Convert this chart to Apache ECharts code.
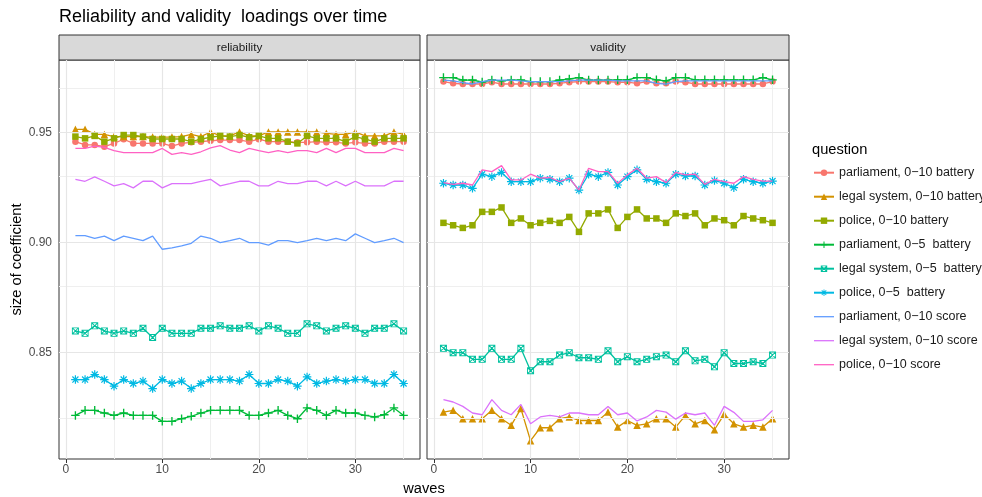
<!DOCTYPE html>
<html><head><meta charset="utf-8">
<script src="https://cdn.jsdelivr.net/npm/echarts@6/dist/echarts.min.js"></script>
<style>html,body{margin:0;padding:0;background:#fff}#c{width:982px;height:497px}</style>
</head><body><div id="c"></div>
<script>
// ---------- data ----------
const waves = [1,2,3,4,5,6,7,8,9,10,11,12,13,14,15,16,17,18,19,20,21,22,23,24,25,26,27,28,29,30,31,32,33,34,35];
const questions = ['parliament, 0\u221210 battery','legal system, 0\u221210 battery','police, 0\u221210 battery','parliament, 0\u22125  battery','legal system, 0\u22125  battery','police, 0\u22125  battery','parliament, 0\u221210 score','legal system, 0\u221210 score','police, 0\u221210 score'];
const panels = ['reliability','validity'];
const xMajorTicks = [0,10,20,30];
const xMinorTicks = [5,15,25,35];
const yMajorTicks = [0.85,0.90,0.95];
const yMinorTicks = [0.825,0.875,0.925,0.975];
const yTickLabels = ['0.85','0.90','0.95'];

// reliability panel
const relParl10Bat = [0.9459,0.9444,0.9444,0.9436,0.9451,0.9470,0.9451,0.9451,0.9451,0.9451,0.9439,0.9451,0.9456,0.9459,0.9463,0.9466,0.9466,0.9466,0.9459,0.9470,0.9459,0.9459,0.9459,0.9456,0.9456,0.9459,0.9456,0.9456,0.9451,0.9456,0.9451,0.9451,0.9459,0.9459,0.9459];
const relLegal10Bat = [0.9515,0.9515,0.9492,0.9492,0.9482,0.9482,0.9482,0.9482,0.9480,0.9480,0.9480,0.9482,0.9492,0.9482,0.9503,0.9485,0.9485,0.9503,0.9485,0.9485,0.9503,0.9503,0.9503,0.9503,0.9503,0.9503,0.9497,0.9492,0.9492,0.9503,0.9485,0.9485,0.9485,0.9503,0.9492];
const relPolice10Bat = [0.9482,0.9474,0.9485,0.9459,0.9474,0.9489,0.9489,0.9482,0.9471,0.9471,0.9471,0.9471,0.9459,0.9470,0.9479,0.9485,0.9482,0.9489,0.9479,0.9485,0.9474,0.9474,0.9459,0.9451,0.9485,0.9474,0.9474,0.9474,0.9459,0.9482,0.9470,0.9459,0.9474,0.9474,0.9474];
const relParl5Bat = [0.8215,0.8238,0.8238,0.8226,0.8215,0.8226,0.8215,0.8215,0.8215,0.8188,0.8188,0.8200,0.8211,0.8226,0.8238,0.8238,0.8238,0.8238,0.8215,0.8215,0.8226,0.8238,0.8215,0.8200,0.8249,0.8238,0.8215,0.8238,0.8226,0.8226,0.8215,0.8208,0.8218,0.8249,0.8215];
const relLegal5Bat = [0.8599,0.8588,0.8622,0.8599,0.8588,0.8599,0.8588,0.8611,0.8569,0.8611,0.8588,0.8588,0.8588,0.8611,0.8611,0.8622,0.8611,0.8611,0.8622,0.8599,0.8622,0.8611,0.8588,0.8588,0.8631,0.8622,0.8599,0.8611,0.8622,0.8611,0.8588,0.8611,0.8611,0.8631,0.8599];
const relPolice5Bat = [0.8378,0.8378,0.8401,0.8378,0.8348,0.8378,0.8360,0.8371,0.8337,0.8378,0.8360,0.8371,0.8337,0.8360,0.8378,0.8378,0.8378,0.8371,0.8401,0.8360,0.8360,0.8378,0.8371,0.8348,0.8390,0.8360,0.8371,0.8378,0.8371,0.8378,0.8378,0.8360,0.8360,0.8401,0.8360];
const relParl10Score = [0.9032,0.9032,0.9020,0.9030,0.9009,0.9030,0.9020,0.9009,0.9030,0.8970,0.8976,0.8985,0.8997,0.9030,0.9020,0.9000,0.9009,0.9020,0.9000,0.9000,0.8989,0.9009,0.9009,0.9000,0.9009,0.9020,0.9009,0.9020,0.9009,0.9040,0.9020,0.9000,0.9009,0.9020,0.9000];
const relLegal10Score = [0.9288,0.9279,0.9299,0.9279,0.9258,0.9268,0.9249,0.9279,0.9279,0.9249,0.9268,0.9268,0.9268,0.9279,0.9288,0.9258,0.9268,0.9279,0.9279,0.9258,0.9258,0.9279,0.9268,0.9268,0.9279,0.9279,0.9258,0.9279,0.9258,0.9279,0.9258,0.9258,0.9258,0.9279,0.9279];
const relPolice10Score = [0.9428,0.9428,0.9439,0.9433,0.9418,0.9409,0.9409,0.9409,0.9409,0.9428,0.9401,0.9409,0.9401,0.9413,0.9431,0.9441,0.9421,0.9409,0.9428,0.9418,0.9409,0.9418,0.9409,0.9418,0.9418,0.9409,0.9428,0.9409,0.9428,0.9428,0.9409,0.9409,0.9409,0.9428,0.9418];

// validity panel
const valParl10Bat = [0.9732,0.9724,0.9721,0.9721,0.9721,0.9729,0.9721,0.9721,0.9721,0.9721,0.9721,0.9721,0.9724,0.9729,0.9732,0.9732,0.9732,0.9732,0.9729,0.9729,0.9724,0.9732,0.9724,0.9724,0.9732,0.9729,0.9721,0.9721,0.9721,0.9721,0.9721,0.9721,0.9721,0.9721,0.9732];
const valLegal10Bat = [0.8230,0.8238,0.8200,0.8200,0.8200,0.8238,0.8200,0.8170,0.8246,0.8100,0.8159,0.8159,0.8200,0.8208,0.8192,0.8192,0.8192,0.8230,0.8162,0.8192,0.8170,0.8177,0.8200,0.8200,0.8162,0.8215,0.8177,0.8192,0.8150,0.8220,0.8177,0.8162,0.8170,0.8162,0.8200];
const valPolice10Bat = [0.9090,0.9079,0.9067,0.9079,0.9140,0.9140,0.9160,0.9090,0.9110,0.9079,0.9090,0.9099,0.9090,0.9117,0.9049,0.9133,0.9133,0.9151,0.9067,0.9117,0.9151,0.9110,0.9110,0.9090,0.9133,0.9121,0.9133,0.9079,0.9110,0.9102,0.9079,0.9121,0.9110,0.9102,0.9090];
const valParl5Bat = [0.9750,0.9750,0.9739,0.9739,0.9730,0.9739,0.9735,0.9739,0.9739,0.9732,0.9732,0.9732,0.9739,0.9744,0.9750,0.9739,0.9739,0.9739,0.9740,0.9740,0.9750,0.9750,0.9740,0.9735,0.9750,0.9750,0.9740,0.9740,0.9740,0.9740,0.9740,0.9740,0.9740,0.9750,0.9740];
const valLegal5Bat = [0.8520,0.8500,0.8500,0.8470,0.8470,0.8520,0.8470,0.8470,0.8520,0.8418,0.8459,0.8459,0.8489,0.8500,0.8477,0.8477,0.8470,0.8509,0.8459,0.8482,0.8459,0.8470,0.8482,0.8489,0.8459,0.8509,0.8463,0.8470,0.8436,0.8500,0.8451,0.8451,0.8459,0.8451,0.8489];
const valPolice5Bat = [0.9270,0.9262,0.9262,0.9247,0.9311,0.9300,0.9319,0.9277,0.9277,0.9277,0.9293,0.9288,0.9277,0.9293,0.9239,0.9311,0.9300,0.9319,0.9262,0.9300,0.9331,0.9288,0.9277,0.9270,0.9311,0.9303,0.9303,0.9262,0.9282,0.9270,0.9250,0.9288,0.9277,0.9270,0.9280];
const valParl10Score = [0.9739,0.9735,0.9727,0.9721,0.9732,0.9739,0.9739,0.9739,0.9735,0.9732,0.9732,0.9732,0.9732,0.9735,0.9739,0.9739,0.9739,0.9739,0.9735,0.9735,0.9735,0.9735,0.9724,0.9720,0.9732,0.9735,0.9735,0.9735,0.9735,0.9735,0.9735,0.9735,0.9735,0.9735,0.9735];
const valLegal10Score = [0.8287,0.8276,0.8256,0.8226,0.8218,0.8287,0.8238,0.8218,0.8265,0.8177,0.8208,0.8215,0.8208,0.8226,0.8226,0.8218,0.8218,0.8256,0.8218,0.8226,0.8190,0.8208,0.8238,0.8230,0.8198,0.8226,0.8218,0.8226,0.8170,0.8256,0.8229,0.8188,0.8188,0.8195,0.8238];
const valPolice10Score = [0.9273,0.9265,0.9270,0.9262,0.9331,0.9323,0.9350,0.9285,0.9285,0.9311,0.9293,0.9296,0.9277,0.9293,0.9239,0.9338,0.9323,0.9323,0.9270,0.9308,0.9338,0.9293,0.9300,0.9273,0.9319,0.9308,0.9311,0.9265,0.9288,0.9277,0.9270,0.9300,0.9288,0.9280,0.9280];

const panelValues = [
  [relParl10Bat, relLegal10Bat, relPolice10Bat, relParl5Bat, relLegal5Bat, relPolice5Bat, relParl10Score, relLegal10Score, relPolice10Score],
  [valParl10Bat, valLegal10Bat, valPolice10Bat, valParl5Bat, valLegal5Bat, valPolice5Bat, valParl10Score, valLegal10Score, valPolice10Score]
];

// ---------- styling ----------
const colors = ['#F8766D','#D39200','#93AA00','#00BA38','#00C19F','#00B9E3','#619CFF','#DB72FB','#FF61C3'];
const PLUS = 'path://M4.2,0H5.8V4.2H10V5.8H5.8V10H4.2V5.8H0V4.2H4.2Z';
const SQCROSS = 'path://M0,0H10V1.3H0Z M8.7,0H10V10H8.7Z M0,8.7H10V10H0Z M0,0H1.3V10H0Z M0,0L1,0L10,9L10,10L9,10L0,1Z M9,0L10,0L10,1L1,10L0,10L0,9Z';
const ASTER = 'path://M4.3,0H5.7V10H4.3Z M0,4.3H10V5.7H0Z M1.955,0.965L9.035,8.045L8.045,9.035L0.965,1.955Z M8.045,0.965L9.035,1.955L1.955,9.035L0.965,8.045Z';
const LINEKEY = 'path://M0,0H20V1.3H0Z';
const symbols = ['circle','triangle','rect',PLUS,SQCROSS,ASTER,'none','none','none'];
const symbolSizes = [6.5,7.5,6.5,8.5,7,8.5,0,0,0];
const font = '"Liberation Sans", Arial, Helvetica, sans-serif';
const X_MIN = -0.7, X_MAX = 36.7, Y_MIN = 0.8017, Y_MAX = 0.9830;
const grids = [
  {left: 59, top: 60, width: 361, height: 399},
  {left: 427, top: 60, width: 362, height: 399}
];

const chart = echarts.init(document.getElementById('c'), null, {renderer: 'canvas', width: 982, height: 497});

function gridLines() {
  const minor = {color: '#EFEFEF', width: 1, type: 'solid'};
  const major = {color: '#E6E6E6', width: 1.2, type: 'solid'};
  return [].concat(
    xMinorTicks.map(v => ({xAxis: v, lineStyle: minor})),
    yMinorTicks.map(v => ({yAxis: v, lineStyle: minor})),
    xMajorTicks.map(v => ({xAxis: v, lineStyle: major})),
    yMajorTicks.map(v => ({yAxis: v, lineStyle: major}))
  );
}

const series = [];
panels.forEach((p, pi) => {
  series.push({
    type: 'line', name: '_grid' + pi, xAxisIndex: pi, yAxisIndex: pi, data: [], z: 1,
    silent: true, animation: false,
    markLine: {silent: true, symbol: ['none','none'], label: {show: false}, animation: false,
      lineStyle: {type: 'solid'}, emphasis: {disabled: true}, data: gridLines()}
  });
  questions.forEach((q, i) => {
    const vals = panelValues[pi][i];
    series.push({
      type: 'line', name: q, xAxisIndex: pi, yAxisIndex: pi, z: 3 + i,
      data: waves.map((w, k) => [w, vals[k]]),
      symbol: symbols[i], symbolSize: symbolSizes[i], showSymbol: symbols[i] !== 'none',
      color: colors[i],
      lineStyle: {color: colors[i], width: 1.3},
      itemStyle: {color: colors[i]},
      animation: false, emphasis: {disabled: true}
    });
  });
});

const legendData = questions.map((q, i) => symbols[i] === 'none'
  ? {name: q, icon: LINEKEY, itemStyle: {color: colors[i]}}
  : {name: q});

const option = {
  backgroundColor: '#ffffff',
  animation: false,
  grid: grids.map(g => Object.assign({show: true, borderColor: '#333333', borderWidth: 1, backgroundColor: 'transparent', containLabel: false}, g)),
  xAxis: grids.map((g, i) => ({
    type: 'value', gridIndex: i, min: X_MIN, max: X_MAX,
    axisLine: {show: false}, splitLine: {show: false},
    axisTick: {show: true, length: 4, lineStyle: {color: '#333333', width: 1}, customValues: xMajorTicks},
    axisLabel: {show: true, customValues: xMajorTicks, color: '#4D4D4D', fontSize: 12, fontFamily: font, margin: 5,
      formatter: v => String(Math.round(v))}
  })),
  yAxis: grids.map((g, i) => ({
    type: 'value', gridIndex: i, min: Y_MIN, max: Y_MAX,
    axisLine: {show: false}, splitLine: {show: false},
    axisTick: {show: i === 0, length: 4, lineStyle: {color: '#333333', width: 1}, customValues: yMajorTicks},
    axisLabel: {show: i === 0, customValues: yMajorTicks, color: '#4D4D4D', fontSize: 12, fontFamily: font, margin: 7,
      formatter: v => { const k = yMajorTicks.findIndex(t => Math.abs(t - v) < 1e-6); return k >= 0 ? yTickLabels[k] : ''; }}
  })),
  legend: {
    orient: 'vertical', left: 813, top: 165.7, padding: 0,
    itemWidth: 20, itemHeight: 8, itemGap: 10,
    data: legendData, selectedMode: false,
    textStyle: {fontSize: 12.5, lineHeight: 14, fontFamily: font, color: '#1A1A1A'}
  },
  graphic: [
    {type: 'text', x: 59, y: 17, style: {text: 'Reliability and validity  loadings over time', fontSize: 18, fontFamily: font, fill: '#000', align: 'left', verticalAlign: 'middle'}},
    {type: 'rect', shape: {x: 59, y: 35, width: 361, height: 25}, style: {fill: '#D9D9D9', stroke: '#333333', lineWidth: 1}},
    {type: 'rect', shape: {x: 427, y: 35, width: 362, height: 25}, style: {fill: '#D9D9D9', stroke: '#333333', lineWidth: 1}},
    {type: 'text', x: 239.5, y: 47.5, style: {text: panels[0], fontSize: 11.7, fontFamily: font, fill: '#1A1A1A', align: 'center', verticalAlign: 'middle'}},
    {type: 'text', x: 608, y: 47.5, style: {text: panels[1], fontSize: 11.7, fontFamily: font, fill: '#1A1A1A', align: 'center', verticalAlign: 'middle'}},
    {type: 'text', x: 424, y: 489, style: {text: 'waves', fontSize: 14.67, fontFamily: font, fill: '#000', align: 'center', verticalAlign: 'middle'}},
    {type: 'text', x: 17, y: 259.5, rotation: Math.PI / 2, style: {text: 'size of coefficient', fontSize: 14.67, fontFamily: font, fill: '#000', align: 'center', verticalAlign: 'middle'}},
    {type: 'text', x: 812, y: 150, style: {text: 'question', fontSize: 14.67, fontFamily: font, fill: '#000', align: 'left', verticalAlign: 'middle'}}
  ],
  series: series
};
chart.setOption(option);
</script>
</body></html>
